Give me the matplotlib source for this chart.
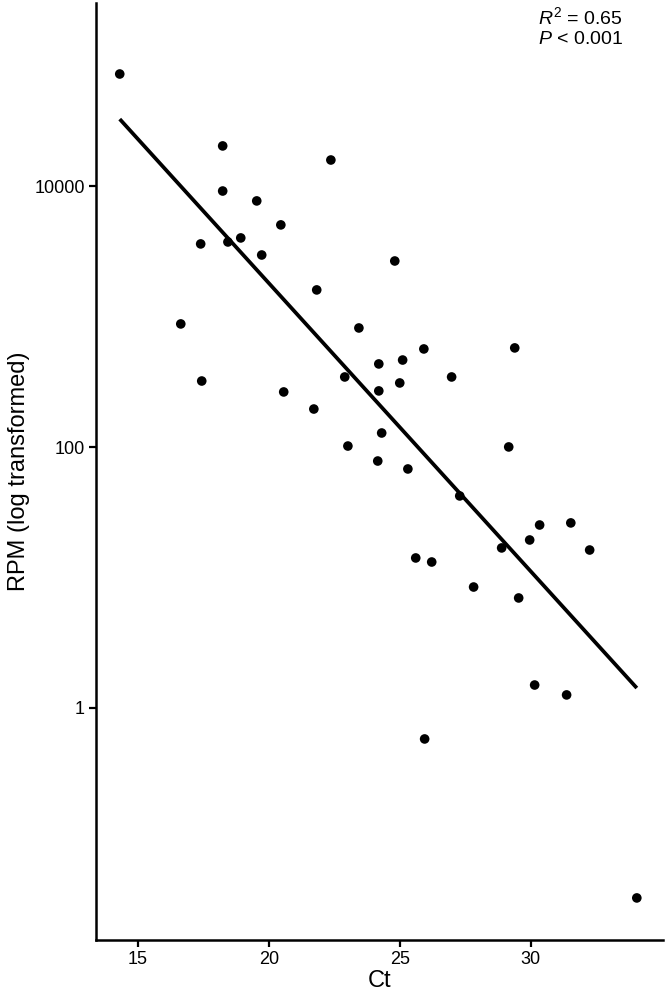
import numpy as np
import matplotlib
matplotlib.use("Agg")
import matplotlib.pyplot as plt

# =============================
# Data
# =============================
ct = [14.31, 18.24, 22.37, 18.24, 19.54, 20.46, 17.40, 18.44, 18.93, 19.73,
      21.83, 16.64, 24.81, 23.44, 25.92, 24.20, 25.11, 26.98, 22.90, 17.44,
      24.20, 25.00, 20.57, 21.72, 24.31, 23.02, 24.16, 25.31, 27.29, 25.61,
      26.22, 27.82, 29.39, 29.16, 30.34, 31.53, 29.96, 28.89, 32.25, 29.54,
      30.15, 31.37, 25.95, 34.05]
log_rpm = [4.863, 4.311, 4.203, 3.965, 3.889, 3.705, 3.559, 3.574, 3.605, 3.474,
           3.206, 2.945, 3.428, 2.914, 2.753, 2.638, 2.668, 2.538, 2.538, 2.507,
           2.431, 2.492, 2.423, 2.292, 2.108, 2.008, 1.893, 1.832, 1.625, 1.149,
           1.118, 0.926, 2.761, 2.001, 1.402, 1.418, 1.287, 1.226, 1.210, 0.842,
           0.174, 0.098, -0.240, -1.460]
rpm = 10 ** np.array(log_rpm)

x_ticks = [15, 20, 25, 30]
y_ticks = [1, 100, 10000]
y_tick_labels = ["1", "100", "10000"]

# =============================
# Style
# =============================
plt.rcParams["font.family"] = ["Liberation Sans", "DejaVu Sans"]
plt.rcParams["mathtext.fontset"] = "custom"
plt.rcParams["mathtext.rm"] = "Liberation Sans"
plt.rcParams["mathtext.it"] = "Liberation Sans:italic"

fig = plt.figure(figsize=(6.66, 9.94), dpi=100)
ax = fig.add_axes([0.144, 0.0543, 0.8515, 0.9427])

# =============================
# Scatter + linear fit on log scale
# =============================
ax.scatter(ct, rpm, s=48, color="black", edgecolors="none", zorder=3)

slope, intercept = np.polyfit(ct, log_rpm, 1)
xf = np.array([min(ct), max(ct)])
ax.plot(xf, 10 ** (intercept + slope * xf), color="black", lw=2.7,
        solid_capstyle="butt", zorder=2)

ax.set_yscale("log")
ax.set_xlim(13.40, 35.05)
ax.set_ylim(10 ** -1.783, 10 ** 5.408)
ax.set_xticks(x_ticks)
ax.set_yticks(y_ticks, labels=y_tick_labels)
ax.minorticks_off()

for side in ["top", "right"]:
    ax.spines[side].set_visible(False)
for side in ["left", "bottom"]:
    ax.spines[side].set_linewidth(1.8)
ax.tick_params(width=1.6, length=5, labelsize=13, color="black", pad=3)

ax.set_xlabel("Ct", fontsize=17, labelpad=1)
ax.set_ylabel("RPM (log transformed)", fontsize=17, labelpad=3)

fig.text(538 / 666, 1 - 17 / 994, r"$\mathit{R}^2$ = 0.65", fontsize=14,
         ha="left", va="center")
fig.text(538 / 666, 1 - 40 / 994, r"$\mathit{P}$ < 0.001", fontsize=14,
         ha="left", va="center")

fig.savefig("out.png", dpi=100)
